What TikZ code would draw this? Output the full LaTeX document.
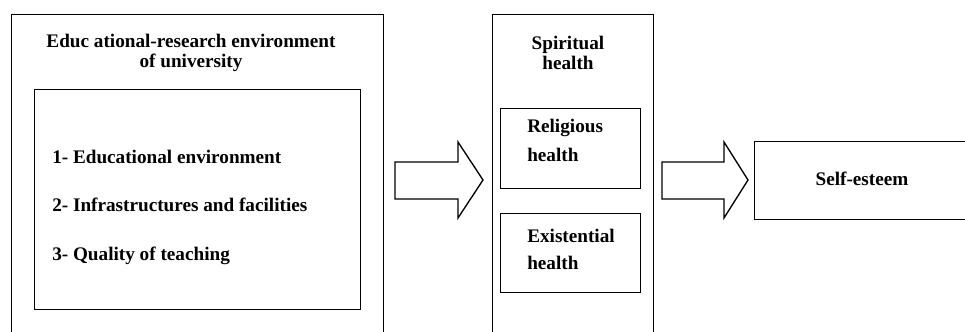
\documentclass[tikz,border=0pt]{standalone}
\usepackage{fontspec}
\setmainfont{Liberation Serif}
\usepackage{tikz}
\usetikzlibrary{positioning}

\tikzset{
  box/.style={draw, line width=1pt, inner sep=0pt, anchor=north west},
  txt/.style={font=\bfseries\fontsize{14.4}{15.6}\selectfont, inner sep=0pt},
  blockarrow/.style={draw, line width=1pt, fill=white}
}

\begin{document}
\begin{tikzpicture}[x=0.75pt, y=-0.75pt]
    \useasboundingbox (0,0) rectangle (965,332);
    \clip (0,0) rectangle (965,332);
    % boxes
    \node[box, minimum width=372*0.75pt, minimum height=346*0.75pt] (env) at (11,14) {};
    \node[box, minimum width=326*0.75pt, minimum height=220*0.75pt] (items) at (34,89) {};
    \node[box, minimum width=161*0.75pt, minimum height=346*0.75pt] (spirit) at (492,14) {};
    \node[box, minimum width=140*0.75pt, minimum height=80*0.75pt] (rel) at (500,108) {};
    \node[box, minimum width=140*0.75pt, minimum height=79*0.75pt] (exi) at (500,213) {};
    \node[box, minimum width=231*0.75pt, minimum height=78*0.75pt] (self) at (754,141) {};
    % texts
    \node[txt, align=center] (envtitle) at (191,53) {Educ ational-research environment\\of university};
    \node[txt, anchor=west] (item1) at (52,157) {1- Educational environment};
    \node[txt, anchor=west] (item2) at (52,205) {2- Infrastructures and facilities};
    \node[txt, anchor=west] (item3) at (52,256) {3- Quality of teaching};
    \node[txt, align=center] (spirittitle) at (568,53) {Spiritual\\health};
    \node[txt, anchor=west] (reltext) at (527,128) {Religious};
    \node[txt, anchor=west] (relhealth) at (527,155) {health};
    \node[txt, anchor=west] (exitext) at (527,236) {Existential};
    \node[txt, anchor=west] (exihealth) at (527,263) {health};
    \node[txt] (selftext) at (862,179) {Self-esteem};
    % arrows
    \draw[blockarrow] (395,162) -- (458,162) -- (458,142) -- (483,180) -- (458,218)
        -- (458,199) -- (395,199) -- cycle;
    \draw[blockarrow] (662,162) -- (724,162) -- (724,142) -- (748,180) -- (724,218)
        -- (724,199) -- (662,199) -- cycle;
\end{tikzpicture}
\end{document}
